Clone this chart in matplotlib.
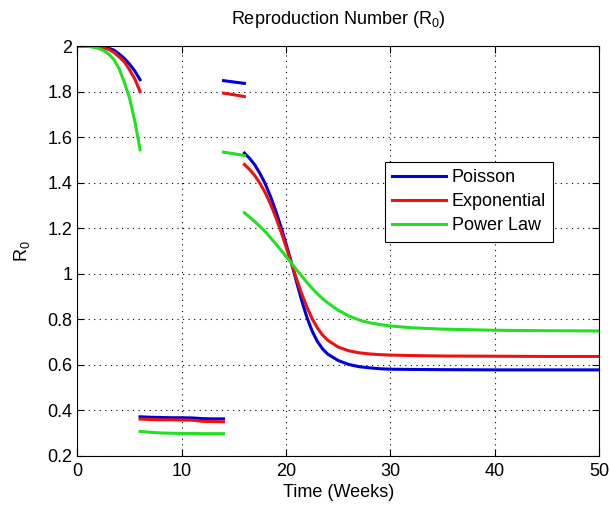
import numpy as np
import matplotlib
matplotlib.use('Agg')
import matplotlib.pyplot as plt
from matplotlib.ticker import FormatStrFormatter

plt.rcParams['font.family'] = ['Liberation Sans', 'DejaVu Sans']
plt.rcParams['mathtext.fontset'] = 'custom'
plt.rcParams['mathtext.rm'] = 'Liberation Sans'
plt.rcParams['mathtext.it'] = 'Liberation Sans'

nan = np.nan

# tiempo en semanas, nan separa los tramos de la curva
weeks = [0, 1, 2, 2.5, 3, 3.5, 4, 4.5, 5, 5.5, 6, nan,
         6, 7, 8, 9, 10, 11, 12, 13, 14, nan,
         14, 15, 16, nan,
         16, 16.5, 17, 17.5, 18, 18.5, 19, 19.5, 20, 20.5, 21, 21.5, 22, 22.5,
         23, 23.5, 24, 25, 26, 27, 28, 29, 30, 32, 35, 40, 45, 50]

poisson = [2.0, 2.0, 1.998, 1.995, 1.99, 1.982, 1.965, 1.945, 1.92, 1.89, 1.852, nan,
           0.372, 0.370, 0.369, 0.368, 0.368, 0.367, 0.364, 0.363, 0.363, nan,
           1.848, 1.842, 1.836, nan,
           1.530, 1.507, 1.478, 1.440, 1.395, 1.340, 1.277, 1.207, 1.131, 1.050, 0.965, 0.882, 0.808, 0.748,
           0.703, 0.670, 0.647, 0.619, 0.602, 0.592, 0.587, 0.583, 0.581, 0.580, 0.579, 0.578, 0.578, 0.578]

exponential = [2.0, 2.0, 1.996, 1.991, 1.985, 1.972, 1.952, 1.93, 1.895, 1.855, 1.80, nan,
               0.362, 0.360, 0.359, 0.359, 0.358, 0.357, 0.352, 0.351, 0.350, nan,
               1.793, 1.786, 1.778, nan,
               1.480, 1.458, 1.431, 1.397, 1.356, 1.307, 1.250, 1.186, 1.118, 1.048, 0.978, 0.912, 0.853, 0.803,
               0.762, 0.731, 0.708, 0.678, 0.662, 0.653, 0.648, 0.645, 0.643, 0.641, 0.639, 0.638, 0.637, 0.637]

power_law = [2.0, 1.999, 1.99, 1.98, 1.965, 1.94, 1.90, 1.84, 1.77, 1.67, 1.545, nan,
             0.308, 0.304, 0.301, 0.300, 0.299, 0.299, 0.298, 0.298, 0.298, nan,
             1.534, 1.527, 1.519, nan,
             1.268, 1.249, 1.229, 1.208, 1.185, 1.159, 1.132, 1.104, 1.076, 1.047, 1.018, 0.990, 0.962, 0.936,
             0.912, 0.891, 0.872, 0.840, 0.815, 0.797, 0.785, 0.777, 0.771, 0.763, 0.757, 0.752, 0.750, 0.749]

series = [('Poisson', poisson, '#0000d8'),
          ('Exponential', exponential, '#ee1111'),
          ('Power Law', power_law, '#22e022')]

fig = plt.figure(figsize=(6.10, 5.08), dpi=100)
ax = fig.add_axes([0.127, 0.1024, 0.855, 0.807])

for name, vals, col in series:
    ax.plot(weeks, vals, color=col, lw=2.2, label=name)

ax.set_xlim(0, 50)
ax.set_ylim(0.2, 2)
ax.set_xticks(np.arange(0, 51, 10))
ax.set_yticks(np.arange(0.2, 2.01, 0.2))
ax.yaxis.set_major_formatter(FormatStrFormatter('%g'))
ax.tick_params(direction='in', top=True, right=True, length=5, labelsize=13, width=0.8)
ax.tick_params(axis='x', pad=5)
ax.grid(True, color='black', linestyle=(0, (1, 4)), linewidth=0.8)
for s in ax.spines.values():
    s.set_linewidth(0.8)

ax.set_title('Reproduction Number (R$_0$)', fontsize=13, pad=16)
ax.set_xlabel('Time (Weeks)', fontsize=13, labelpad=3)
ax.set_ylabel('R$_0$', fontsize=13, labelpad=11)

leg = ax.legend(loc='upper right', bbox_to_anchor=(0.912, 0.718), fontsize=13,
                frameon=True, fancybox=False, framealpha=1, edgecolor='black',
                handlelength=3.0, handletextpad=0.3, labelspacing=0.4,
                borderpad=0.4, borderaxespad=0)
leg.get_frame().set_linewidth(0.8)

fig.savefig('out.png', dpi=100)
